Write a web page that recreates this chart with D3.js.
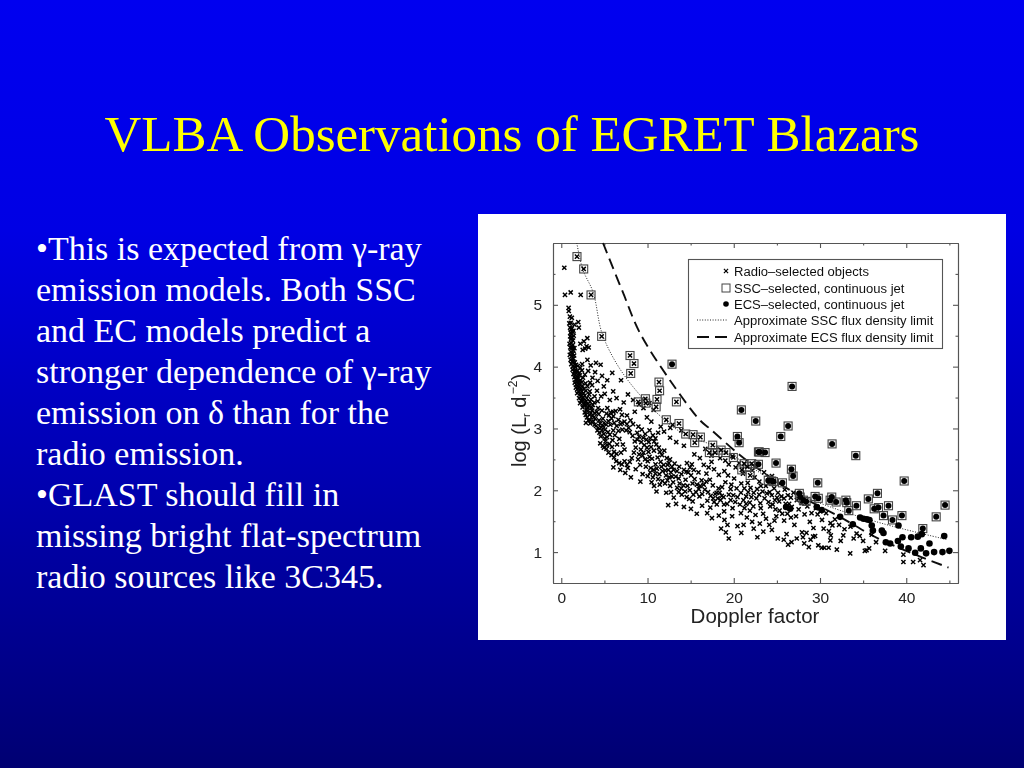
<!DOCTYPE html>
<html><head><meta charset="utf-8">
<script src="https://cdn.jsdelivr.net/npm/d3@7"></script>
<style>html,body{margin:0;padding:0;overflow:hidden;background:#000080}svg{display:block}</style>
</head><body><svg id="c" width="1024" height="768"></svg>
<script>
const titleText="VLBA Observations of EGRET Blazars";
const bodyLines=["•This is expected from γ-ray","emission models. Both SSC","and EC models predict a","stronger dependence of γ-ray","emission on δ than for the","radio emission.","•GLAST should fill in","missing bright flat-spectrum","radio sources like 3C345."];
const xMajor=[0,10,20,30,40];
const xMinor=[5,15,25,35,45];
const yMajor=[1,2,3,4,5];
const yMinor=[1.5,2.5,3.5,4.5,5.5];
const legendLabels=["Radio–selected objects","SSC–selected, continuous jet","ECS–selected, continuous jet","Approximate SSC flux density limit","Approximate ECS flux density limit"];
const sscLimit=[[1.8,6],[2.5,5.57],[3.7,5.2],[4.7,4.55],[6.2,4.1],[8,3.73],[11.1,3.25],[14.1,2.92],[18.4,2.68],[23.1,2.28],[27,1.97],[31.2,1.73],[37.3,1.46],[44.8,1.2]];
const ecsLimit=[[4.84,6],[7.15,5.2],[9.1,4.55],[12.5,3.8],[16.1,3.13],[17.2,3.0],[20.7,2.57],[22.7,2.36],[26.9,1.97],[32.3,1.57],[36.6,1.23],[41.2,0.95],[44.9,0.75]];
const radioTop=[[0.35,5.6],[0.43,5.16],[1.09,5.2],[2.25,5.16],[0.85,4.95],[0.87,4.9],[1.0,4.81],[1.22,4.79],[0.93,4.7],[1.1,4.71],[1.97,4.72],[1.53,4.68],[2.04,4.63],[3.02,4.46],[2.62,4.41],[2.93,4.33],[2.21,4.37],[2.77,4.29],[3.18,4.31],[2.48,4.27]];
const radioSteep=[[1.02,4.63],[1.13,4.6],[1.24,4.62],[1.08,4.55],[1.31,4.56],[1.41,4.58],[1.19,4.53],[1.03,4.49],[1.27,4.47],[1.44,4.5],[1.12,4.44],[1.36,4.42],[0.96,4.37],[1.17,4.38],[1.04,4.31],[1.29,4.3],[1.11,4.24],[1.42,4.26],[0.99,4.19],[1.22,4.17],[1.33,4.21],[1.08,4.11],[1.27,4.09],[1.49,4.18],[1.41,4.13],[1.16,4.04],[1.36,4.01],[1.57,4.07],[1.72,4.03],[1.31,3.95],[1.48,3.97],[1.63,3.99],[1.91,4.01],[2.2,3.98],[1.42,3.88],[1.57,3.91],[1.74,3.89],[1.86,3.93],[2.07,3.9],[2.4,3.94],[1.52,3.83],[1.66,3.79],[1.83,3.84],[1.97,3.81],[2.13,3.86],[2.52,3.82],[1.56,3.74],[1.73,3.71],[1.88,3.76],[2.02,3.72],[2.21,3.78],[2.38,3.75],[2.81,3.73],[1.69,3.66],[1.87,3.64],[2.06,3.67],[2.17,3.62],[2.43,3.69],[2.62,3.64],[3.04,3.68],[3.57,3.7],[1.84,3.57],[2.01,3.59],[2.23,3.55],[2.37,3.6],[2.58,3.57],[2.84,3.61],[3.3,3.6],[2.06,3.49],[2.28,3.52],[2.44,3.47],[2.71,3.53],[2.96,3.49],[3.23,3.55],[3.86,3.52],[2.18,3.41],[2.39,3.44],[2.63,3.39],[2.87,3.44],[3.12,3.4],[3.44,3.47],[4.22,3.44],[2.47,3.34],[2.69,3.37],[2.94,3.31],[3.21,3.36],[3.53,3.33],[3.83,3.42],[2.72,3.26],[3.03,3.28],[3.27,3.22],[3.58,3.29],[3.87,3.25],[4.27,3.33],[2.98,3.18],[3.31,3.14],[3.61,3.2],[3.94,3.16],[4.33,3.23],[4.71,3.29],[3.36,3.08],[3.72,3.11],[4.03,3.04],[4.38,3.13],[4.82,3.16],[5.23,3.24],[3.14,3.13],[2.86,3.09]];
const radioWing=[[3.03,4.11],[2.42,4.04],[3.41,4.02],[4.02,4.06],[4.56,4.03],[3.92,3.91],[3.12,3.93],[4.73,3.85],[3.62,3.82],[2.73,3.87],[4.21,3.77],[5.33,3.78],[3.34,3.74],[4.93,3.68],[5.91,3.9],[6.93,3.78],[6.02,3.6],[7.73,3.55],[4.14,3.61],[4.62,3.52],[5.04,3.56],[5.63,3.46],[6.41,3.49],[7.24,3.42],[6.82,3.31],[5.34,3.33],[6.03,3.27],[7.62,3.21],[8.33,3.46],[9.02,3.39],[8.52,3.27],[9.53,3.33],[10.22,3.41],[10.71,3.3],[9.93,3.18],[10.44,3.11],[8.03,3.13],[7.04,3.09],[11.53,3.03],[12.64,3.01],[11.23,2.93],[10.92,2.84],[12.91,3.06],[13.92,2.97],[12.61,2.85],[13.33,2.78],[14.22,2.72],[11.92,2.95]];
const radioClumpsA=[[4.42,2.93],[4.71,2.97],[4.58,2.87],[4.93,2.91],[4.28,3.01],[5.08,2.98],[4.83,3.04],[5.31,2.86],[5.54,3.21],[5.72,3.26],[5.83,3.16],[5.47,3.12],[6.04,3.2],[6.31,3.28],[5.69,3.06],[6.14,3.09],[6.62,3.14],[7.03,3.22],[4.52,2.76],[4.83,2.72],[5.12,2.79],[5.24,2.67],[5.58,2.75],[5.47,2.61],[5.83,2.57],[6.12,2.53],[6.37,2.47],[6.71,2.44],[7.02,2.42],[7.34,2.47],[7.62,2.41],[7.94,2.46],[8.17,2.52],[8.42,2.61],[8.63,2.69],[8.52,2.79],[8.27,2.88],[7.94,2.94],[7.53,2.97],[7.08,2.98],[6.63,2.96],[6.21,2.89],[5.94,2.81],[5.88,2.7],[6.11,2.62],[7.14,2.74],[7.33,2.66],[6.92,2.61],[6.04,2.37],[6.84,2.33],[7.42,2.28],[8.07,2.21],[7.72,2.36],[8.63,2.34],[9.14,2.41],[8.91,2.5],[9.42,2.56],[9.23,2.66],[9.62,2.73],[9.87,2.82],[10.14,2.78],[9.73,2.91],[10.23,2.97],[10.62,2.89],[9.33,2.98],[8.94,3.03],[8.32,3.07],[7.61,3.07],[9.04,2.87],[9.51,2.85],[10.41,2.7],[10.74,2.64],[11.02,2.74],[10.11,2.62],[10.52,2.51],[10.03,2.47],[9.81,2.38],[10.37,2.36],[10.93,2.42],[11.17,2.53],[11.43,2.62],[11.67,2.57],[11.94,2.64],[11.52,2.46],[11.88,2.41],[12.23,2.52],[12.47,2.44],[12.83,2.38],[13.14,2.43],[12.71,2.29],[12.42,2.33],[12.14,2.24],[11.73,2.31],[13.42,2.31],[13.67,2.38],[9.43,2.26],[10.02,2.23],[10.31,2.29],[10.62,2.21],[10.91,2.27],[11.23,2.18],[10.47,2.13],[10.76,2.07],[11.04,1.98],[11.42,2.09],[11.72,2.15],[9.17,2.14],[12.03,2.11],[12.31,2.16],[12.62,2.07],[12.97,2.13],[12.17,1.96],[12.4,1.76],[13.04,1.88],[12.72,1.97]];
const radioClumpsB=[[13.44,2.04],[13.72,2.11],[13.91,2.03],[14.17,2.08],[13.61,1.97],[13.97,1.93],[14.36,1.98],[14.63,2.07],[14.41,2.17],[14.72,2.29],[14.93,2.37],[15.14,2.42],[14.57,2.44],[15.37,2.33],[15.04,2.24],[15.46,2.18],[15.73,2.09],[15.94,2.02],[15.62,1.97],[16.12,2.07],[16.33,1.94],[16.64,2.01],[16.27,2.16],[16.83,2.27],[15.91,2.29],[16.52,2.41],[16.07,2.52],[15.43,2.58],[17.08,2.37],[17.42,2.46],[17.71,2.34],[17.23,2.17],[17.57,2.08],[17.84,1.94],[18.13,1.87],[18.37,1.96],[17.72,1.81],[18.03,1.77],[18.47,1.84],[18.82,1.89],[18.64,2.05],[19.03,2.13],[19.34,2.24],[18.91,2.31],[18.27,2.25],[19.72,2.09],[20.04,2.19],[20.22,2.37],[19.42,2.42],[14.22,1.73],[13.31,1.78],[14.83,1.86],[15.24,1.82],[15.03,1.7],[15.71,1.62],[16.33,1.75],[16.94,1.83],[16.92,1.63],[17.47,1.55],[17.28,1.72],[19.23,1.78],[19.64,1.84],[19.86,1.71],[20.17,1.81],[20.43,1.89],[20.71,1.77],[19.94,1.92],[20.83,1.96],[21.12,1.84],[21.44,1.9],[21.23,2.03],[21.62,2.12],[21.94,2.04],[22.31,1.96],[21.86,1.8],[22.27,1.74],[22.62,1.87],[22.94,1.93],[23.34,1.98],[23.08,1.79],[23.57,1.87],[24.03,1.81],[24.41,1.92],[24.77,1.84],[25.13,1.96],[23.72,2.07],[24.23,2.14],[24.68,2.03],[25.36,2.11],[25.91,2.01],[26.27,1.92],[26.93,1.96],[22.42,2.21],[22.97,2.14],[23.51,2.29],[22.14,2.32],[21.07,2.27],[24.43,2.23],[25.27,1.82],[25.83,1.87],[26.42,1.78],[27.31,1.84],[27.87,1.79],[28.53,1.74],[26.72,1.73],[18.42,2.52],[19.02,2.48],[19.84,2.55],[20.62,2.44],[17.41,2.56],[16.71,2.67]];
const radioDenseFill=[[1.18,4.47],[1.34,4.35],[1.21,4.31],[1.52,4.3],[1.38,4.08],[1.62,3.93],[1.79,3.8],[2.11,3.76],[1.94,3.68],[2.31,3.64],[2.29,3.45],[2.53,3.5],[2.77,3.42],[3.06,3.34],[3.33,3.43],[3.66,3.38],[2.84,3.22],[3.44,3.25],[3.78,3.18],[4.12,3.27],[4.51,3.08],[4.97,3.09],[3.87,3.06],[4.19,2.97],[4.63,3.02],[5.21,3.06],[5.42,2.94],[5.03,2.84],[5.63,2.9],[6.03,2.97],[6.42,3.04],[6.88,3.07],[7.33,3.11],[7.81,3.01],[4.94,2.69],[5.31,2.73],[6.47,2.74],[6.73,2.83],[6.41,2.59],[8.84,2.82],[8.81,2.93],[9.27,2.78],[9.53,2.61],[9.94,2.69],[10.33,2.84],[10.77,2.79],[11.31,2.69],[9.02,2.58],[9.71,2.5],[10.23,2.54],[10.71,2.33],[11.08,2.35],[11.37,2.26],[11.61,2.38],[12.07,2.32],[12.33,2.41],[12.61,2.5],[13.01,2.33],[13.27,2.22],[12.84,2.22],[12.53,2.21],[13.62,2.19],[13.93,2.26],[14.22,2.33],[14.51,2.3],[15.22,2.11],[14.9,2.0],[15.31,1.93],[14.54,1.89],[16.02,1.9],[16.52,2.09],[16.81,2.14],[17.02,1.97],[17.32,1.91],[17.61,1.87],[18.01,1.96],[18.23,2.03],[18.61,1.91],[18.87,1.77],[19.42,1.93],[19.63,2.02],[20.33,2.03],[20.87,2.11],[21.43,1.78],[21.67,1.97],[22.04,1.89],[22.71,2.02],[23.14,2.07],[23.83,1.95],[24.17,1.97],[24.52,1.77],[25.02,1.88],[25.52,1.9],[26.02,1.78],[26.62,1.88]];
const radioMidLow=[[18.92,1.52],[19.08,1.32],[19.27,1.44],[18.53,1.38],[19.81,1.58],[20.43,1.42],[20.87,1.31],[21.52,1.56],[22.13,1.49],[22.74,1.24],[23.02,1.46],[23.41,1.62],[20.83,1.63],[19.42,1.22],[18.88,1.66],[18.27,1.59],[21.24,1.71],[21.87,1.67],[22.52,1.6],[23.13,1.71],[23.74,1.54],[24.12,1.44],[24.42,1.36],[24.93,1.58],[25.31,1.67],[25.84,1.51],[26.12,1.29],[26.63,1.56],[27.03,1.44],[27.52,1.69],[27.91,1.32],[28.21,1.61],[24.22,1.74],[24.83,1.69],[28.82,1.49],[29.24,1.39],[29.72,1.61],[30.23,1.52],[30.71,1.63],[31.22,1.47],[31.73,1.53],[32.21,1.44],[32.84,1.37],[33.53,1.41],[34.24,1.3],[28.43,1.31],[28.91,1.2],[28.17,1.14],[28.02,1.24],[29.43,1.26],[30.42,1.38],[31.03,1.34],[31.44,1.43],[29.02,1.63],[29.53,1.71],[30.04,1.66],[25.62,1.62],[24.72,1.51],[26.22,1.62],[27.22,1.58],[23.43,1.33],[22.31,1.38],[21.14,1.44]];
const radioRight=[[33.5,0.98],[28.7,1.08],[29.8,1.11],[30.2,1.07],[30.5,1.07],[31.0,1.07],[31.95,1.04],[35.4,1.03],[32.4,1.18],[31.2,1.19],[31.25,1.27],[34.6,1.26],[29.2,1.25],[35.7,1.06],[35.2,1.02],[37.55,1.02],[36.5,1.16],[39.67,0.96],[39.67,0.84],[40.8,0.84],[41.6,0.87],[42.0,0.79],[25.1,1.22],[25.8,1.2],[26.3,1.12],[26.7,1.16],[27.3,1.22],[32.7,1.27],[33.9,1.22],[35.0,1.18],[36.0,1.28]];
const sscPoints=[[1.82,5.78],[2.6,5.58],[3.45,5.16],[4.68,4.49],[7.97,4.18],[8.43,4.05],[8.05,3.89],[11.33,3.75],[11.4,3.61],[9.75,3.48],[9.8,3.41],[8.93,3.43],[11.1,3.47],[11.0,3.35],[13.35,3.43],[12.18,3.14],[13.65,3.08],[14.43,2.91],[15.28,2.9],[16.13,2.86],[15.47,2.77],[17.56,2.73],[17.17,2.61],[17.83,2.61],[18.53,2.65],[19.1,2.61],[19.95,2.53],[21.2,2.43],[20.93,2.33],[21.9,2.24],[22.08,2.43],[21.58,2.38]];
const ecsBoxed=[[12.84,4.04],[20.88,3.3],[26.76,3.68],[22.55,3.12],[26.3,3.04],[20.42,2.87],[20.62,2.77],[22.86,2.62],[25.45,2.87],[31.4,2.75],[34.15,2.56],[22.97,2.62],[23.63,2.61],[24.9,2.44],[22.86,2.42],[26.68,2.34],[26.88,2.23],[39.76,2.15],[29.74,2.12],[24.0,2.16],[24.4,2.15],[24.6,2.14],[25.64,2.12],[36.66,1.95],[27.6,1.95],[35.6,1.86],[29.43,1.9],[29.8,1.87],[31.36,1.89],[31.17,1.84],[31.87,1.81],[33.0,1.84],[33.1,1.8],[34.22,1.75],[37.94,1.75],[44.5,1.76],[43.47,1.57],[33.34,1.67],[36.28,1.7],[36.78,1.72],[37.36,1.59],[39.5,1.59],[38.4,1.52],[41.92,1.38],[27.7,1.89],[28.07,1.84],[28.39,1.82]];
const ecsPlain=[[30.2,1.68],[32.33,1.57],[33.8,1.45],[34.65,1.56],[35.04,1.54],[35.43,1.53],[35.73,1.52],[36.0,1.43],[36.13,1.35],[37.17,1.35],[37.36,1.31],[39.1,1.43],[39.03,1.18],[39.56,1.24],[38.13,1.14],[37.63,1.16],[39.37,1.09],[40.26,1.06],[41.03,0.99],[40.57,1.24],[41.34,1.25],[41.8,1.29],[41.69,1.06],[42.69,1.14],[42.3,0.98],[43.23,1.0],[44.2,1.0],[45.0,1.02],[44.4,1.26],[26.53,1.7],[26.07,1.73],[29.63,1.73]];

const svg=d3.select("#c");
const defs=svg.append("defs");
const grad=defs.append("linearGradient").attr("id","bg").attr("x1",0).attr("y1",0).attr("x2",0).attr("y2",1);
[[0,"#0000f0"],[0.3,"#0000e4"],[0.78,"#000098"],[1,"#000072"]].forEach(s=>grad.append("stop").attr("offset",s[0]).attr("stop-color",s[1]));
defs.append("filter").attr("id","soft").append("feGaussianBlur").attr("stdDeviation",0.5);
svg.append("rect").attr("width",1024).attr("height",768).attr("fill","url(#bg)");
svg.append("text").text(titleText).attr("x",512).attr("y",151).attr("text-anchor","middle")
 .attr("font-family","'Liberation Serif'").attr("font-size",51).attr("fill","#ffff00");
svg.append("g").selectAll("text").data(bodyLines).join("text").text(d=>d).attr("x",36)
 .attr("y",(d,i)=>260+i*41).attr("font-family","'Liberation Serif'").attr("font-size",34).attr("fill","#ffffff");
svg.append("rect").attr("x",478).attr("y",214).attr("width",528).attr("height",426).attr("fill","#ffffff");

const x=d3.scaleLinear().domain([-0.96,46]).range([553,958]);
const y=d3.scaleLinear().domain([0.5,6]).range([583,243]);
const fig=svg.append("g").attr("filter","url(#soft)");
const ink="#222";
function styleAxis(g){g.selectAll("path,line").attr("stroke","#555").attr("stroke-width",1.1);
 g.selectAll("text").attr("font-family","'Liberation Sans'").attr("font-size",15.5).attr("fill",ink);}
function noText(){return ""}
[[d3.axisBottom(x),583,8.7],[d3.axisTop(x),243,0]].forEach(([a,py,pad],i)=>{
 fig.append("g").attr("transform",`translate(0,${py})`).call(a.tickValues(xMajor).tickSizeInner(-5).tickSizeOuter(0).tickPadding(pad).tickFormat(i==0?d3.format("d"):noText)).call(styleAxis);
 fig.append("g").attr("transform",`translate(0,${py})`).call(a.tickValues(xMinor).tickSizeInner(-2.5).tickSizeOuter(0).tickFormat(noText)).call(styleAxis);
});
[[d3.axisLeft(y),553,11],[d3.axisRight(y),958,0]].forEach(([a,px,pad],i)=>{
 fig.append("g").attr("transform",`translate(${px},0)`).call(a.tickValues(yMajor).tickSizeInner(-5).tickSizeOuter(0).tickPadding(pad).tickFormat(i==0?d3.format("d"):noText)).call(styleAxis);
 fig.append("g").attr("transform",`translate(${px},0)`).call(a.tickValues(yMinor).tickSizeInner(-2.5).tickSizeOuter(0).tickFormat(noText)).call(styleAxis);
});
const line=d3.line().x(d=>x(d[0])).y(d=>y(d[1])).curve(d3.curveCatmullRom.alpha(0.5));
fig.append("path").attr("d",line(sscLimit)).attr("fill","none").attr("stroke","#222").attr("stroke-width",1).attr("stroke-dasharray","1 1.6");
fig.append("path").attr("d",line(ecsLimit)).attr("fill","none").attr("stroke","#111").attr("stroke-width",1.9).attr("stroke-dasharray","11 6");

const cross=d3.symbol().type(d3.symbolTimes).size(13);
const radio=[...radioTop,...radioSteep,...radioWing,...radioClumpsA,...radioClumpsB,...radioDenseFill,...radioMidLow,...radioRight];
function crosses(g,data){g.append("g").selectAll("path").data(data).join("path").attr("d",cross)
 .attr("transform",d=>`translate(${x(d[0])},${y(d[1])})`).attr("fill","none").attr("stroke","#000").attr("stroke-width",1.45);}
function squares(g,data){g.append("g").selectAll("rect").data(data).join("rect")
 .attr("x",d=>x(d[0])-4).attr("y",d=>y(d[1])-4).attr("width",8).attr("height",8).attr("fill","none").attr("stroke","#444").attr("stroke-width",1.1);}
function dots(g,data,r){g.append("g").selectAll("circle").data(data).join("circle")
 .attr("cx",d=>x(d[0])).attr("cy",d=>y(d[1])).attr("r",r).attr("fill","#000");}
crosses(fig,radio);
squares(fig,sscPoints);crosses(fig,sscPoints);
squares(fig,ecsBoxed);dots(fig,ecsBoxed,3);dots(fig,ecsPlain,3.3);

// legend
const leg=fig.append("g");
leg.append("rect").attr("x",688.5).attr("y",259.5).attr("width",254).attr("height",89).attr("fill","#fff").attr("stroke","#555").attr("stroke-width",1.1);
const rowY=[271,288,304,320,337];
leg.selectAll("text").data(legendLabels).join("text").text(d=>d).attr("x",734).attr("y",(d,i)=>rowY[i]+4.5)
 .attr("font-family","'Liberation Sans'").attr("font-size",13.05).attr("fill","#111");
leg.append("path").attr("d",cross).attr("transform",`translate(726,${rowY[0]})`).attr("fill","none").attr("stroke","#000").attr("stroke-width",1.2);
leg.append("rect").attr("x",722).attr("y",rowY[1]-4).attr("width",8).attr("height",8).attr("fill","none").attr("stroke","#444");
leg.append("circle").attr("cx",726).attr("cy",rowY[2]).attr("r",2.8).attr("fill","#000");
leg.append("line").attr("x1",697).attr("x2",727).attr("y1",rowY[3]).attr("y2",rowY[3]).attr("stroke","#222").attr("stroke-width",1).attr("stroke-dasharray","1 1.6");
leg.append("line").attr("x1",697).attr("x2",727).attr("y1",rowY[4]).attr("y2",rowY[4]).attr("stroke","#111").attr("stroke-width",1.9).attr("stroke-dasharray","12 6");

fig.append("text").text("Doppler factor").attr("x",755).attr("y",623).attr("text-anchor","middle")
 .attr("font-family","'Liberation Sans'").attr("font-size",20.5).attr("fill",ink);
const yl=fig.append("text").attr("transform","translate(526,467) rotate(-90)").attr("font-family","'Liberation Sans'").attr("font-size",20).attr("fill",ink);
yl.append("tspan").text("log (L");
yl.append("tspan").text("r").attr("font-size",11).attr("dy",4);
yl.append("tspan").text(" d").attr("dy",-4);
yl.append("tspan").text("l").attr("font-size",11).attr("dy",4);
yl.append("tspan").text("−2").attr("font-size",12).attr("dy",-13);
yl.append("tspan").text(")").attr("dy",9);
</script></body></html>
